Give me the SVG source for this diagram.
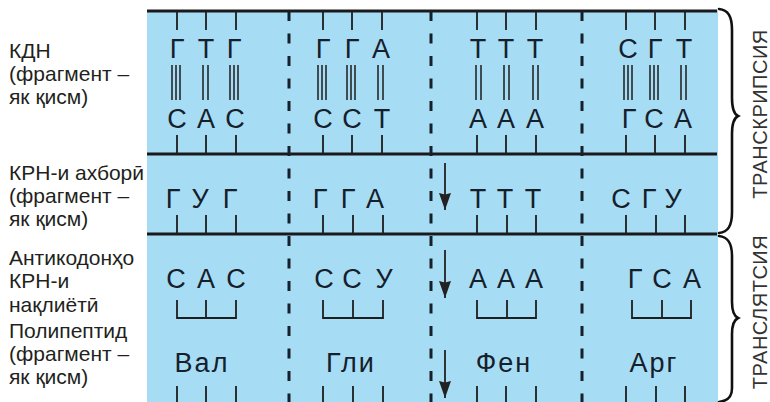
<svg xmlns="http://www.w3.org/2000/svg" width="770" height="402" viewBox="0 0 770 402">
<style>
.lbl{font-family:"Liberation Sans",Arial,sans-serif;font-size:21px;fill:#231f20}
.b{font-family:"Liberation Sans",Arial,sans-serif;font-size:27px;fill:#15202b;text-anchor:middle}
.w{font-family:"Liberation Sans",Arial,sans-serif;font-size:27px;fill:#15202b;text-anchor:middle;letter-spacing:2px}
.side{font-family:"Liberation Sans",Arial,sans-serif;font-size:20px;fill:#333;text-anchor:middle}
.tk{stroke:#1e1e1e;stroke-width:1.8;fill:none}
.bp{stroke:#1e1e1e;stroke-width:1.5;fill:none}
.hl{stroke:#1a1a1a;stroke-width:3}
.dl{stroke:#15202b;stroke-width:3;stroke-dasharray:10 12.5}
.br{stroke:#111;stroke-width:2.6;fill:none;stroke-linecap:round}
.ar{stroke:#222;stroke-width:1.8}
</style>
<defs>
<marker id="ah" markerWidth="17" markerHeight="12" refX="17" refY="6" orient="auto" markerUnits="userSpaceOnUse" viewBox="0 0 17 12">
<path d="M0,0 L17,6 L0,12 L1.5,6 Z" fill="#222"/>
</marker>
</defs>
<rect x="147" y="10" width="571" height="392" fill="#a7dcf5"/>
<g id="frame">
<line class="hl" x1="147" y1="11" x2="717" y2="11"/>
<line class="hl" x1="147" y1="154" x2="717" y2="154"/>
<line class="hl" x1="147" y1="234" x2="717" y2="234"/>
<line class="dl" x1="289" y1="11" x2="289" y2="402"/>
<line class="dl" x1="431" y1="11" x2="431" y2="402"/>
<line class="dl" x1="582" y1="11" x2="582" y2="402"/>
</g>
<g id="labels-left">
<text class="lbl" x="9" y="58">КДН</text>
<text class="lbl" x="9" y="81">(фрагмент –</text>
<text class="lbl" x="9" y="104">як қисм)</text>
<text class="lbl" x="9" y="180">КРН-и ахборӣ</text>
<text class="lbl" x="9" y="203">(фрагмент –</text>
<text class="lbl" x="9" y="226">як қисм)</text>
<text class="lbl" x="9" y="265">Антикодонҳо</text>
<text class="lbl" x="9" y="288">КРН-и</text>
<text class="lbl" x="9" y="312">нақлиётӣ</text>
<text class="lbl" x="9" y="338">Полипептид</text>
<text class="lbl" x="9" y="361">(фрагмент –</text>
<text class="lbl" x="9" y="384">як қисм)</text>
</g>
<g id="dna">
<path class="tk" d="M177,11V30M206,11V30M236,11V30M323,11V30M352,11V30M382,11V30M477,11V30M506,11V30M536,11V30M626,11V30M655,11V30M685,11V30"/>
<path class="tk" d="M177,135V154M206,135V154M236,135V154M323,135V154M352,135V154M382,135V154M477,135V154M506,135V154M536,135V154M626,135V154M655,135V154M685,135V154"/>
<path class="bp" d="M172,65V100M176,65V100M180,65V100 M203,65V100M208,65V100 M230,65V100M234,65V100M238,65V100
M318,65V100M322,65V100M326,65V100 M347,65V100M351,65V100M355,65V100 M378,65V100M383,65V100
M476,65V100M481,65V100 M504,65V100M509,65V100 M533,65V100M538,65V100
M624,65V100M628,65V100M632,65V100 M650,65V100M654,65V100M658,65V100 M681,65V100M686,65V100"/>
<text class="b" x="177" y="58">Г</text><text class="b" x="206" y="58">Т</text><text class="b" x="234" y="58">Г</text>
<text class="b" x="323" y="58">Г</text><text class="b" x="352" y="58">Г</text><text class="b" x="381" y="58">А</text>
<text class="b" x="478" y="58">Т</text><text class="b" x="506" y="58">Т</text><text class="b" x="535" y="58">Т</text>
<text class="b" x="628" y="58">С</text><text class="b" x="655" y="58">Г</text><text class="b" x="684" y="58">Т</text>
<text class="b" x="177" y="128">С</text><text class="b" x="206" y="128">А</text><text class="b" x="235" y="128">С</text>
<text class="b" x="323" y="128">С</text><text class="b" x="352" y="128">С</text><text class="b" x="382" y="128">Т</text>
<text class="b" x="478" y="128">А</text><text class="b" x="506" y="128">А</text><text class="b" x="535" y="128">А</text>
<text class="b" x="629" y="128">Г</text><text class="b" x="654" y="128">С</text><text class="b" x="683" y="128">А</text>
</g>
<g id="mrna">
<path class="tk" d="M177,215V234M206,215V234M236,215V234M323,215V234M353,215V234M383,215V234M477,215V234M507,215V234M536,215V234M626,215V234M656,215V234M685,215V234"/>
<text class="b" x="173" y="208">Г</text><text class="b" x="200" y="208">У</text><text class="b" x="230" y="208">Г</text>
<text class="b" x="320" y="208">Г</text><text class="b" x="348" y="208">Г</text><text class="b" x="375" y="208">А</text>
<text class="b" x="478" y="208">Т</text><text class="b" x="505" y="208">Т</text><text class="b" x="533" y="208">Т</text>
<text class="b" x="621" y="208">С</text><text class="b" x="649" y="208">Г</text><text class="b" x="673" y="208">У</text>
</g>
<g id="trna">
<path class="tk" d="M177,300V318H236V300M206,300V318 M323,300V318H383V300M353,300V318 M477,300V318H536V300M507,300V318 M632,300V318H691V300M662,300V318"/>
<text class="b" x="176" y="288">С</text><text class="b" x="206" y="288">А</text><text class="b" x="236" y="288">С</text>
<text class="b" x="324" y="288">С</text><text class="b" x="352" y="288">С</text><text class="b" x="384" y="288">У</text>
<text class="b" x="478" y="288">А</text><text class="b" x="506" y="288">А</text><text class="b" x="534" y="288">А</text>
<text class="b" x="635" y="288">Г</text><text class="b" x="662" y="288">С</text><text class="b" x="692" y="288">А</text>
</g>
<g id="polypeptide">
<path class="tk" d="M177,386V402M206,386V402M236,386V402M323,386V402M353,386V402M383,386V402M477,386V402M506,386V402M536,386V402M626,386V402M656,386V402M685,386V402"/>
<text class="w" x="202" y="372">Вал</text>
<text class="w" x="351" y="372">Гли</text>
<text class="w" x="504" y="372">Фен</text>
<text class="w" x="654" y="372">Арг</text>
</g>
<g id="connectors">
<line class="ar" x1="445" y1="163" x2="445" y2="210" marker-end="url(#ah)"/>
<line class="ar" x1="445" y1="250" x2="445" y2="298" marker-end="url(#ah)"/>
<line class="ar" x1="445" y1="350" x2="445" y2="398" marker-end="url(#ah)"/>
</g>
<g id="braces">
<path class="br" d="M719,9 C728,10 732,16 732,30 L732,98 C732,108 734,114 738,116 C734,118 732,124 732,134 L732,212 C732,226 728,232 719,233"/>
<path class="br" d="M719,236 C728,237 732,243 732,256 L732,302 C732,312 734,316 738,318 C734,320 732,324 732,334 L732,388 C732,397 728,401 719,402"/>
<text class="side" transform="translate(767,114) rotate(-90)" letter-spacing="0.5">ТРАНСКРИПСИЯ</text>
<text class="side" transform="translate(767,312) rotate(-90)" letter-spacing="0.5">ТРАНСЛЯТСИЯ</text>
</g>
</svg>
